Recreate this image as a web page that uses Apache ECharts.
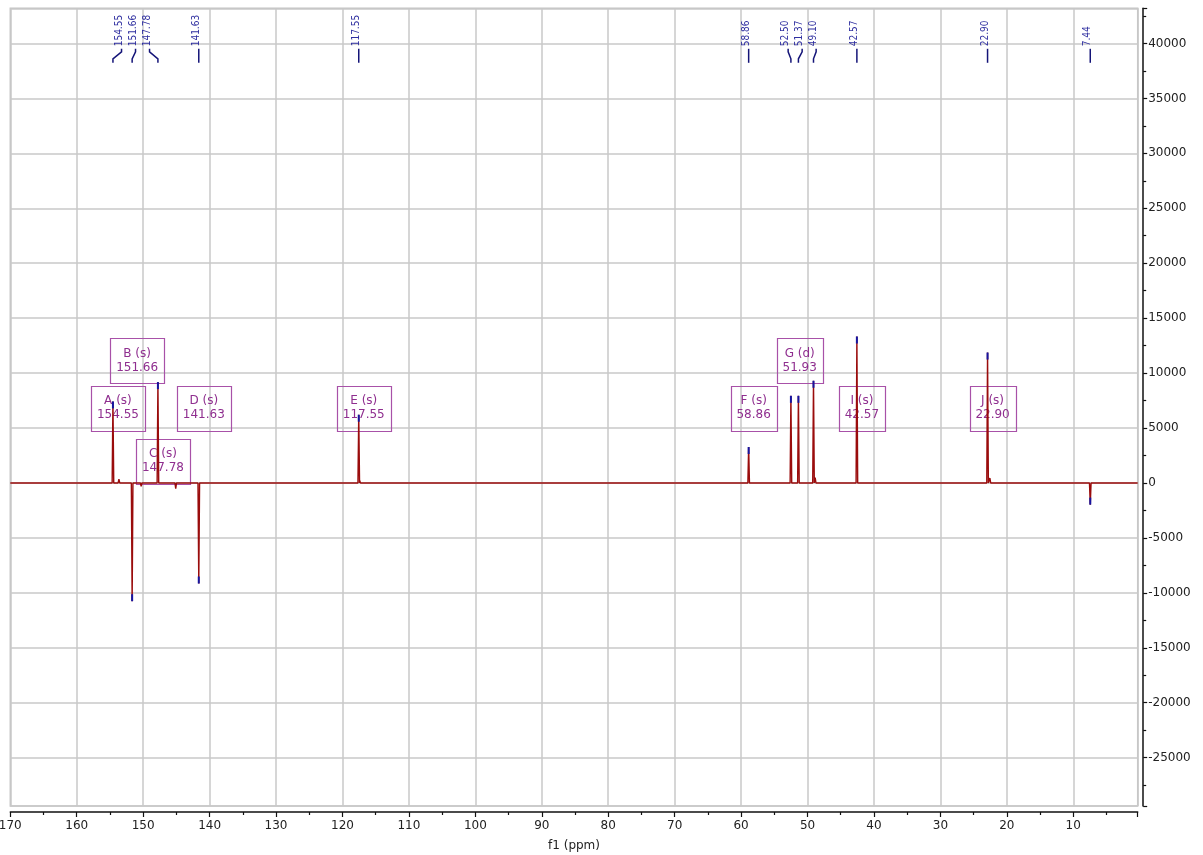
<!DOCTYPE html>
<html><head><meta charset="utf-8">
<script src="https://cdn.jsdelivr.net/npm/echarts@6/dist/echarts.min.js"></script>
<style>html,body{margin:0;padding:0;background:#fff}#c{width:1203px;height:855px}</style>
</head><body><div id="c"></div>
<script>
// ---------------- DATA ----------------
const peakShifts      = [154.55, 151.66, 147.78, 141.63, 117.55, 58.86, 52.50, 51.37, 49.10, 42.57, 22.90, 7.44];
const peakIntensities = [7420, -10760, 9180, -9150, 6210, 3270, 7930, 7930, 9300, 13330, 11870, -1970];
const minorShifts      = [153.65, 150.30, 145.10, 117.40, 48.85, 22.55];
const minorIntensities = [350, -300, -520, 200, 480, 450];
const multipletLetters = ['A', 'B', 'C', 'D', 'E', 'F', 'G', 'I', 'J'];
const multipletTypes   = ['s', 's', 's', 's', 's', 's', 'd', 's', 's'];
const multipletShifts  = [154.55, 151.66, 147.78, 141.63, 117.55, 58.86, 51.93, 42.57, 22.90];
const xTickLabels = [170, 160, 150, 140, 130, 120, 110, 100, 90, 80, 70, 60, 50, 40, 30, 20, 10];
const yTickLabels = [-25000, -20000, -15000, -10000, -5000, 0, 5000, 10000, 15000, 20000, 25000, 30000, 35000, 40000];

// ---------------- LAYOUT ----------------
const X_MIN = 0.3, X_MAX = 170, Y_MIN = -29400, Y_MAX = 43200;
const boxRow = [1, 2, 0, 1, 1, 1, 2, 1, 1];
const BOX_ROW_CENTER = [1980, 6800, 11120];
const GROUP_GAP = 30, LABEL_STEP = 14;
const AXIS_FONT = '"DejaVu Sans", sans-serif';

// spectrum trace built from the peak tables
function buildTrace() {
  const feats = [];
  peakShifts.forEach((p, i) => feats.push([p, peakIntensities[i]]));
  minorShifts.forEach((p, i) => feats.push([p, minorIntensities[i]]));
  feats.sort((a, b) => b[0] - a[0]);
  const pts = [[X_MAX, 0]];
  feats.forEach(f => { pts.push([f[0] + 0.12, 0]); pts.push([f[0], f[1]]); pts.push([f[0] - 0.12, 0]); });
  pts.push([X_MIN, 0]);
  return pts;
}

const mctx = document.createElement('canvas').getContext('2d');
function measure(t, font) { mctx.font = font; return mctx.measureText(t).width; }

function labelLayout(api) {
  const xs = peakShifts.map(p => api.coord([p, 0])[0]);
  const order = xs.map((x, i) => i).sort((a, b) => xs[a] - xs[b]);
  const groups = [];
  let cur = [order[0]];
  for (let k = 1; k < order.length; k++) {
    const i = order[k];
    if (xs[i] - xs[cur[cur.length - 1]] < GROUP_GAP) cur.push(i); else { groups.push(cur); cur = [i]; }
  }
  groups.push(cur);
  const lx = xs.slice();
  groups.forEach(g => {
    if (g.length < 2) return;
    const mean = g.reduce((s, i) => s + xs[i], 0) / g.length;
    g.forEach((i, k) => { lx[i] = mean + 1.2 + (k - (g.length - 1) / 2) * LABEL_STEP; });
  });
  return { xs, lx };
}

const chart = echarts.init(document.getElementById('c'), null, { renderer: 'canvas' });
const BOX_FONT = '12px "DejaVu Sans", sans-serif';
const PK_FONT = '10px "DejaVu Sans Condensed", "Liberation Sans Narrow", "DejaVu Sans", sans-serif';

chart.setOption({
  animation: false,
  backgroundColor: '#ffffff',
  grid: { left: 10.3, right: 65.3, top: 8.3, bottom: 49, show: true, borderColor: '#c4c4c4', borderWidth: 1.5, containLabel: false, outerBoundsMode: 'none' },
  xAxis: {
    type: 'value', inverse: true, min: X_MIN, max: X_MAX, splitNumber: 17, offset: 6,
    axisLine: { show: true, onZero: false, lineStyle: { color: '#111', width: 1.5 } },
    axisTick: { show: true, inside: false, length: 5, lineStyle: { color: '#111', width: 1.2 } },
    minorTick: { show: true, splitNumber: 2, length: 3, lineStyle: { color: '#111', width: 1.2 } },
    splitLine: { show: true, lineStyle: { color: '#c8c8c8', width: 1.5 } },
    axisLabel: { margin: 8, color: '#222', fontSize: 12, fontFamily: AXIS_FONT,
      formatter: v => (xTickLabels.indexOf(Math.round(v)) >= 0 && Math.abs(v - Math.round(v)) < 1e-6) ? String(Math.round(v)) : '' },
    name: 'f1 (ppm)', nameLocation: 'middle', nameGap: 28,
    nameTextStyle: { color: '#222', fontSize: 12, fontFamily: AXIS_FONT }
  },
  yAxis: {
    type: 'value', position: 'right', min: Y_MIN, max: Y_MAX, splitNumber: 14, offset: 5.5,
    axisLine: { show: true, onZero: false, lineStyle: { color: '#111', width: 1.5 } },
    axisTick: { show: true, inside: false, length: 4, lineStyle: { color: '#111', width: 1.2 } },
    minorTick: { show: true, splitNumber: 2, length: 3, lineStyle: { color: '#111', width: 1.2 } },
    splitLine: { show: true, lineStyle: { color: '#c8c8c8', width: 1.5 } },
    axisLabel: { margin: 5, color: '#222', fontSize: 12, fontFamily: AXIS_FONT,
      formatter: v => (yTickLabels.indexOf(Math.round(v)) >= 0) ? String(Math.round(v)) : '' }
  },
  series: [
    {
      type: 'custom', name: 'boxes', z: 2, clip: false,
      data: multipletShifts.map((s, i) => [s, BOX_ROW_CENTER[boxRow[i]]]),
      encode: { x: 0, y: 1 },
      renderItem(params, api) {
        const i = params.dataIndex;
        const c = api.coord([multipletShifts[i], BOX_ROW_CENTER[boxRow[i]]]);
        const cx = c[0] + 5, cy = c[1];
        const l1 = multipletLetters[i] + ' (' + multipletTypes[i] + ')';
        const l2 = multipletShifts[i].toFixed(2);
        const w = Math.round(Math.max(measure(l1, BOX_FONT), measure(l2, BOX_FONT)) + 12);
        const h = 45;
        return { type: 'group', children: [
          { type: 'rect', shape: { x: Math.round(cx - w / 2) + 0.5, y: Math.round(cy - h / 2) + 0.5, width: w, height: h },
            style: { fill: 'none', stroke: '#a851a8', lineWidth: 1.2 } },
          { type: 'text', style: { x: cx, y: cy, text: l1 + '\n' + l2, align: 'center', verticalAlign: 'middle',
            lineHeight: 14, fill: '#8f2e8f', font: BOX_FONT } }
        ] };
      }
    },
    {
      type: 'line', name: 'spectrum', z: 3, showSymbol: false, symbol: 'none', sampling: null,
      data: buildTrace(),
      lineStyle: { color: '#9a0c0c', width: 1.4 }
    },
    {
      type: 'custom', name: 'tips', z: 4,
      data: peakShifts.map((s, i) => [s, peakIntensities[i]]),
      encode: { x: 0, y: 1 },
      renderItem(params, api) {
        const i = params.dataIndex;
        const p = api.coord([peakShifts[i], peakIntensities[i]]);
        const d = peakIntensities[i] > 0 ? 1 : -1;
        return { type: 'line', shape: { x1: p[0], y1: p[1], x2: p[0], y2: p[1] + d * 7 },
          style: { stroke: '#1515a0', lineWidth: 2 } };
      }
    },
    {
      type: 'custom', name: 'peakLabels', z: 5, clip: false,
      data: peakShifts.map((s, i) => [s, Y_MAX]),
      encode: { x: 0, y: 1 },
      renderItem(params, api) {
        const i = params.dataIndex;
        const L = labelLayout(api);
        const top = api.coord([X_MAX, Y_MAX])[1];
        const px = L.xs[i], lx = L.lx[i];
        const pts = Math.abs(px - lx) < 0.5
          ? [[px, top + 40.5], [px, top + 54.5]]
          : [[lx, top + 40.5], [lx, top + 43.5], [px, top + 50.5], [px, top + 54.5]];
        return { type: 'group', children: [
          { type: 'text', x: lx - 2.5, y: top + 38, rotation: Math.PI / 2,
            style: { text: peakShifts[i].toFixed(2), x: 0, y: 0, align: 'left', verticalAlign: 'middle',
              fill: '#2f2fa0', font: PK_FONT } },
          { type: 'polyline', shape: { points: pts }, style: { stroke: '#141478', lineWidth: 1.5, fill: null } }
        ] };
      }
    }
  ]
});
</script>
</body></html>
